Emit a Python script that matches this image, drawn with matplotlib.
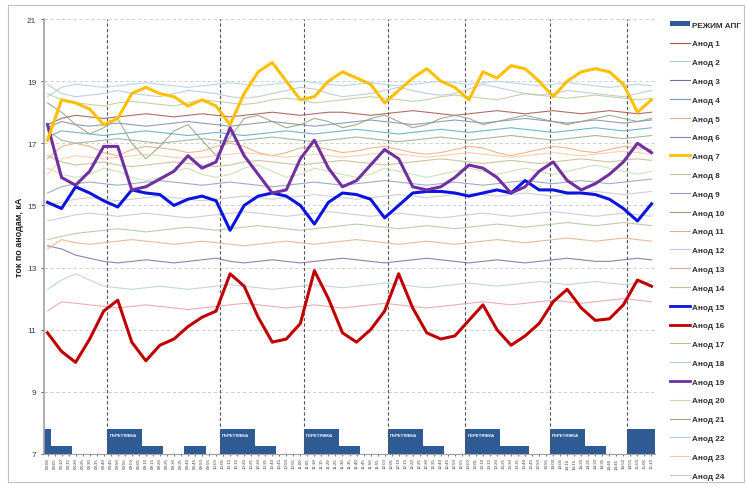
import matplotlib
matplotlib.use("Agg")
import matplotlib.pyplot as plt
import numpy as np
import pandas as pd
from matplotlib.patches import Rectangle, Patch
from matplotlib.lines import Line2D

plt.rcParams['font.family'] = ['Liberation Sans', 'DejaVu Sans']

# --- time axis (categories) ---
time_labels = list(pd.date_range("2012-01-01 08:00", periods=87, freq="5min").strftime("%H:%M"))

# --- режим АПГ (bar series, кА scale) ---
regime_apg = [7.8, 7.25, 7.25, 7.25, 7.0, 7.0, 7.0, 7.0, 7.0,
              7.8, 7.8, 7.8, 7.8, 7.8, 7.25, 7.25, 7.25, 7.0, 7.0, 7.0,
              7.25, 7.25, 7.25, 7.0, 7.0,
              7.8, 7.8, 7.8, 7.8, 7.8, 7.25, 7.25, 7.25, 7.0, 7.0, 7.0, 7.0,
              7.8, 7.8, 7.8, 7.8, 7.8, 7.25, 7.25, 7.25, 7.0, 7.0, 7.0, 7.0,
              7.8, 7.8, 7.8, 7.8, 7.8, 7.25, 7.25, 7.25, 7.0, 7.0, 7.0,
              7.8, 7.8, 7.8, 7.8, 7.8, 7.25, 7.25, 7.25, 7.25, 7.0, 7.0, 7.0,
              7.8, 7.8, 7.8, 7.8, 7.8, 7.25, 7.25, 7.25, 7.0, 7.0, 7.0,
              7.8, 7.8, 7.8, 7.8]
regime_text = "ПЕРЕТЯЖКА"

# --- anode currents, кА (sampled every second time step) ---
anod_01 = [17.6,17.8,17.9,17.85,17.8,17.85,17.9,17.95,17.9,17.85,17.9,17.95,17.9,17.85,17.9,17.95,18.0,17.95,17.9,17.95,18.0,18.0,17.95,17.9,17.95,18.0,18.05,18.0,17.95,17.9,17.95,18.0,18.05,18.0,17.95,18.0,18.05,18.0,17.95,18.0,18.05,18.0,17.95,18.0]
anod_02 = [18.9,18.6,18.5,18.55,18.6,18.7,18.6,18.55,18.5,18.6,18.7,18.65,18.6,18.5,18.45,18.5,18.6,18.7,18.8,18.75,18.6,18.5,18.55,18.6,18.7,18.8,18.7,18.6,18.55,18.6,18.75,18.9,18.8,18.7,18.6,18.55,18.6,18.7,18.65,18.6,18.55,18.5,18.6,18.7]
anod_03 = [13.7,13.6,13.4,13.3,13.2,13.15,13.2,13.25,13.2,13.15,13.2,13.25,13.3,13.2,13.15,13.2,13.25,13.2,13.15,13.2,13.25,13.3,13.25,13.2,13.15,13.2,13.25,13.3,13.25,13.2,13.15,13.2,13.25,13.2,13.15,13.2,13.25,13.3,13.25,13.2,13.2,13.25,13.3,13.25]
anod_04 = [17.2,17.4,17.35,17.3,17.25,17.3,17.35,17.4,17.35,17.3,17.25,17.3,17.35,17.3,17.25,17.3,17.35,17.4,17.35,17.3,17.35,17.4,17.45,17.4,17.35,17.3,17.35,17.4,17.45,17.4,17.35,17.4,17.45,17.5,17.45,17.4,17.35,17.4,17.45,17.5,17.45,17.4,17.45,17.5]
anod_05 = [16.5,16.9,17.0,16.9,16.7,16.6,16.8,16.9,16.85,16.8,16.7,16.75,16.9,17.0,16.9,16.7,16.6,16.7,16.85,16.9,16.8,16.7,16.75,16.85,16.9,16.8,16.7,16.65,16.7,16.8,16.9,16.85,16.7,16.6,16.7,16.8,16.9,16.85,16.75,16.7,16.8,16.9,16.85,16.8]
anod_06 = [17.5,17.7,17.6,17.55,17.6,17.65,17.6,17.55,17.6,17.65,17.7,17.65,17.6,17.55,17.6,17.65,17.7,17.65,17.6,17.55,17.6,17.65,17.7,17.75,17.7,17.65,17.6,17.65,17.7,17.75,17.7,17.65,17.7,17.75,17.8,17.75,17.7,17.65,17.7,17.75,17.7,17.65,17.7,17.75]
anod_07 = [17.1,18.4,18.3,18.1,17.6,17.8,18.6,18.8,18.6,18.5,18.2,18.4,18.2,17.6,18.6,19.3,19.6,19.0,18.4,18.5,19.0,19.3,19.1,18.9,18.3,18.7,19.1,19.4,19.0,18.8,18.4,19.3,19.1,19.5,19.4,19.0,18.5,19.0,19.3,19.4,19.3,18.9,18.0,18.4]
anod_08 = [18.6,18.4,18.3,18.25,18.2,18.3,18.35,18.3,18.25,18.2,18.3,18.4,18.35,18.3,18.25,18.3,18.4,18.45,18.4,18.3,18.35,18.4,18.45,18.5,18.45,18.4,18.35,18.4,18.5,18.55,18.5,18.45,18.4,18.5,18.6,18.55,18.5,18.45,18.5,18.55,18.5,18.45,18.4,18.45]
anod_09 = [15.4,15.6,15.7,15.75,15.7,15.65,15.7,15.75,15.8,15.75,15.7,15.65,15.7,15.75,15.7,15.65,15.6,15.65,15.7,15.75,15.7,15.65,15.7,15.75,15.8,15.75,15.7,15.65,15.7,15.75,15.7,15.65,15.7,15.75,15.8,15.75,15.7,15.75,15.8,15.75,15.7,15.75,15.8,15.85]
anod_10 = [18.3,18.0,17.6,17.3,17.5,17.8,17.0,16.5,16.9,17.4,17.6,17.1,16.6,17.2,17.8,17.9,17.7,17.5,17.6,17.8,17.7,17.5,17.6,17.8,17.9,17.7,17.5,17.6,17.8,17.9,17.8,17.6,17.7,17.8,17.9,17.8,17.7,17.6,17.7,17.8,17.9,17.8,17.7,17.8]
anod_11 = [13.6,13.9,13.8,13.75,13.8,13.85,13.9,13.85,13.8,13.75,13.8,13.85,13.8,13.75,13.7,13.75,13.8,13.85,13.8,13.75,13.8,13.85,13.9,13.85,13.8,13.75,13.8,13.85,13.8,13.75,13.8,13.85,13.9,13.85,13.8,13.85,13.9,13.95,13.9,13.85,13.9,13.95,13.9,13.85]
anod_12 = [14.5,14.6,14.7,14.75,14.7,14.65,14.7,14.75,14.7,14.65,14.6,14.65,14.7,14.75,14.8,14.75,14.7,14.65,14.7,14.75,14.8,14.75,14.7,14.65,14.7,14.75,14.7,14.65,14.6,14.65,14.7,14.75,14.7,14.65,14.7,14.75,14.8,14.75,14.7,14.65,14.7,14.75,14.7,14.65]
anod_13 = [11.6,11.9,11.85,11.8,11.75,11.7,11.75,11.8,11.75,11.7,11.65,11.7,11.75,11.8,11.85,11.8,11.75,11.7,11.75,11.8,11.75,11.7,11.75,11.8,11.85,11.8,11.75,11.7,11.75,11.8,11.85,11.9,11.85,11.8,11.85,11.9,11.95,11.9,11.85,11.9,11.95,12.0,11.95,11.9]
anod_14 = [13.9,14.0,14.1,14.15,14.2,14.25,14.2,14.15,14.2,14.25,14.3,14.25,14.2,14.25,14.3,14.35,14.3,14.25,14.2,14.25,14.3,14.35,14.4,14.35,14.3,14.25,14.3,14.35,14.3,14.25,14.3,14.35,14.4,14.35,14.3,14.35,14.4,14.45,14.4,14.35,14.4,14.45,14.4,14.35]
anod_15 = [15.1,14.9,15.6,15.4,15.15,14.95,15.5,15.4,15.35,15.0,15.2,15.3,15.15,14.2,15.0,15.3,15.4,15.3,15.0,14.4,15.1,15.4,15.35,15.2,14.6,15.0,15.4,15.45,15.45,15.4,15.3,15.4,15.5,15.4,15.8,15.5,15.5,15.4,15.4,15.35,15.2,14.9,14.5,15.05]
anod_16 = [10.9,10.3,9.95,10.7,11.6,11.95,10.6,10.0,10.5,10.7,11.1,11.4,11.6,12.8,12.4,11.4,10.6,10.7,11.2,12.9,12.0,10.9,10.6,11.0,11.6,12.8,11.7,10.9,10.7,10.8,11.3,11.8,11.0,10.5,10.8,11.2,11.9,12.3,11.7,11.3,11.35,11.8,12.6,12.4]
anod_17 = [16.6,16.4,16.3,16.35,16.4,16.3,16.25,16.3,16.35,16.4,16.35,16.3,16.25,16.3,16.4,16.45,16.4,16.35,16.3,16.35,16.4,16.45,16.4,16.35,16.3,16.35,16.4,16.45,16.5,16.45,16.4,16.35,16.4,16.45,16.4,16.35,16.4,16.45,16.5,16.45,16.4,16.45,16.5,16.45]
anod_18 = [12.3,12.6,12.8,12.6,12.4,12.35,12.3,12.35,12.4,12.35,12.3,12.35,12.4,12.45,12.4,12.35,12.3,12.35,12.4,12.45,12.4,12.35,12.4,12.45,12.5,12.45,12.4,12.35,12.4,12.45,12.5,12.45,12.4,12.45,12.5,12.55,12.5,12.45,12.5,12.55,12.5,12.45,12.5,12.55]
anod_19 = [17.6,15.9,15.65,16.1,16.9,16.9,15.5,15.6,15.85,16.1,16.6,16.2,16.4,17.5,16.6,16.0,15.4,15.5,16.5,17.1,16.2,15.6,15.8,16.3,16.8,16.5,15.6,15.5,15.6,15.9,16.3,16.2,15.9,15.4,15.6,16.1,16.4,15.8,15.5,15.7,16.0,16.4,17.0,16.7]
anod_20 = [16.2,16.0,15.9,16.0,16.2,16.1,15.9,15.8,15.9,16.1,16.2,16.0,15.9,16.0,16.2,16.3,16.1,15.9,16.0,16.2,16.1,16.0,15.9,16.0,16.2,16.1,16.0,15.9,16.0,16.1,16.2,16.1,16.0,16.1,16.2,16.1,16.0,16.1,16.2,16.3,16.2,16.1,16.0,16.1]
anod_21 = [17.4,17.1,17.0,17.05,17.1,17.15,17.1,17.05,17.0,17.05,17.1,17.15,17.1,17.05,17.1,17.15,17.2,17.15,17.1,17.05,17.1,17.15,17.2,17.15,17.1,17.05,17.1,17.15,17.2,17.15,17.1,17.15,17.2,17.25,17.2,17.15,17.1,17.15,17.2,17.25,17.2,17.15,17.2,17.25]
anod_22 = [18.5,18.8,18.9,18.85,18.8,18.85,18.9,18.95,18.9,18.85,18.8,18.85,18.9,18.95,18.9,18.85,18.9,18.95,19.0,18.95,18.9,18.85,18.9,18.95,18.9,18.85,18.9,18.95,19.0,18.95,18.9,18.95,19.0,18.95,18.9,18.85,18.9,18.95,18.9,18.85,18.8,18.85,18.9,18.85]
anod_23 = [16.0,16.5,16.6,16.55,16.5,16.55,16.6,16.65,16.6,16.55,16.5,16.55,16.6,16.65,16.7,16.65,16.6,16.55,16.6,16.65,16.6,16.55,16.6,16.65,16.7,16.65,16.6,16.55,16.6,16.65,16.7,16.65,16.6,16.55,16.6,16.65,16.7,16.65,16.6,16.65,16.7,16.75,16.7,16.65]
anod_24 = [15.0,15.1,15.2,15.25,15.2,15.15,15.2,15.25,15.3,15.25,15.2,15.15,15.2,15.25,15.3,15.25,15.2,15.25,15.3,15.35,15.3,15.25,15.2,15.25,15.3,15.35,15.3,15.25,15.3,15.35,15.4,15.35,15.3,15.35,15.4,15.35,15.3,15.35,15.4,15.45,15.4,15.35,15.4,15.45]

anodes = [anod_01, anod_02, anod_03, anod_04, anod_05, anod_06, anod_07, anod_08,
          anod_09, anod_10, anod_11, anod_12, anod_13, anod_14, anod_15, anod_16,
          anod_17, anod_18, anod_19, anod_20, anod_21, anod_22, anod_23, anod_24]
anode_names = [f"Анод {i}" for i in range(1, 25)]

# --- styling ---
anode_colors = ['#a0524d', '#b8c4d8', '#7b6ba0', '#5ba8b8', '#f0a878', '#7a8cb0',
                '#ffc000', '#b8cc98', '#8f9cc0', '#8fa07a', '#e0b088', '#c8c0dc',
                '#e8a0a0', '#b0c4a0', '#0a14e0', '#c00000', '#c8b890', '#b8cce0',
                '#7030a0', '#c8dca8', '#98a890', '#a8d0e8', '#f8c8a8', '#c8c8c8']
bold = {6, 14, 15, 18}
bar_color = '#2f5b94'

fig = plt.figure(figsize=(7.46, 4.89), dpi=100)
ax = fig.add_axes([44/746, 34/489, 611/746, 435/489])

n = len(time_labels)
x_cat = np.arange(n)
vals = np.array(regime_apg)
ax.bar(x_cat, vals - 7.0, bottom=7.0, width=1.0, color=bar_color, linewidth=0, zorder=2)

# dashed markers at the start of every high-regime run
top = vals.max()
starts = [i for i in range(1, n) if vals[i] == top and vals[i - 1] != top]
for s in starts:
    ax.axvline(s - 0.5, color='#555555', lw=0.8, ls=(0, (3, 2)), zorder=3)
    end = s
    while end < n and vals[end] == top:
        end += 1
    if end < n:
        ax.text(s - 0.2, top - 0.12, regime_text, color='white', fontsize=3.2,
                fontweight='bold', va='top', ha='left', zorder=6)

x_line = np.arange(0, n, 2)
order = [i for i in range(24) if i not in bold] + [14, 15, 18, 6]
for i in order:
    if i in bold:
        ax.plot(x_line, anodes[i], color=anode_colors[i], lw=2.2, zorder=5)
    else:
        ax.plot(x_line, anodes[i], color=anode_colors[i], lw=0.8, alpha=0.85, zorder=4)

ax.set_xlim(-0.5, n - 0.5)
ax.set_ylim(7, 21)
ax.set_yticks(np.arange(7, 22, 2))
ax.tick_params(axis='y', labelsize=6, colors='#404040', length=2, width=0.6)
ax.set_xticks(x_cat)
ax.set_xticklabels(time_labels, rotation=90, fontsize=3.2, color='#404040')
ax.tick_params(axis='x', length=1.5, width=0.4, pad=1)
ax.yaxis.grid(True, color='#c8c8c8', lw=0.6, ls=(0, (4, 3)))
ax.set_axisbelow(True)
for side in ['top', 'right']:
    ax.spines[side].set_visible(False)
ax.spines['left'].set_color('#a0a0a0')
ax.spines['left'].set_linewidth(1.2)
ax.spines['bottom'].set_color('#a0a0a0')
ax.spines['bottom'].set_linewidth(0.8)
ax.set_ylabel("ток по анодам, кА", fontsize=6.5, fontweight='bold', color='#202020', labelpad=2)

handles = [Patch(facecolor=bar_color, edgecolor='none')]
labels = ["РЕЖИМ АПГ"]
for i in range(24):
    handles.append(Line2D([0], [0], color=anode_colors[i], lw=2.0 if i in bold else 0.8))
    labels.append(anode_names[i])
leg = fig.legend(handles, labels, loc='upper left', bbox_to_anchor=(667/746, 1 - 19/489),
                 frameon=False, fontsize=5.9, handlelength=2.4, handleheight=0.5,
                 labelspacing=1.41, handletextpad=0.3, borderaxespad=0)
for t in leg.get_texts():
    t.set_fontweight('bold')
    t.set_color('#303030')

fig.patches.append(Rectangle((8/746, 6/489), 736/746, 477/489, transform=fig.transFigure,
                             fill=False, edgecolor='#c0c0c0', lw=0.8))

fig.savefig("out.png", dpi=100)
